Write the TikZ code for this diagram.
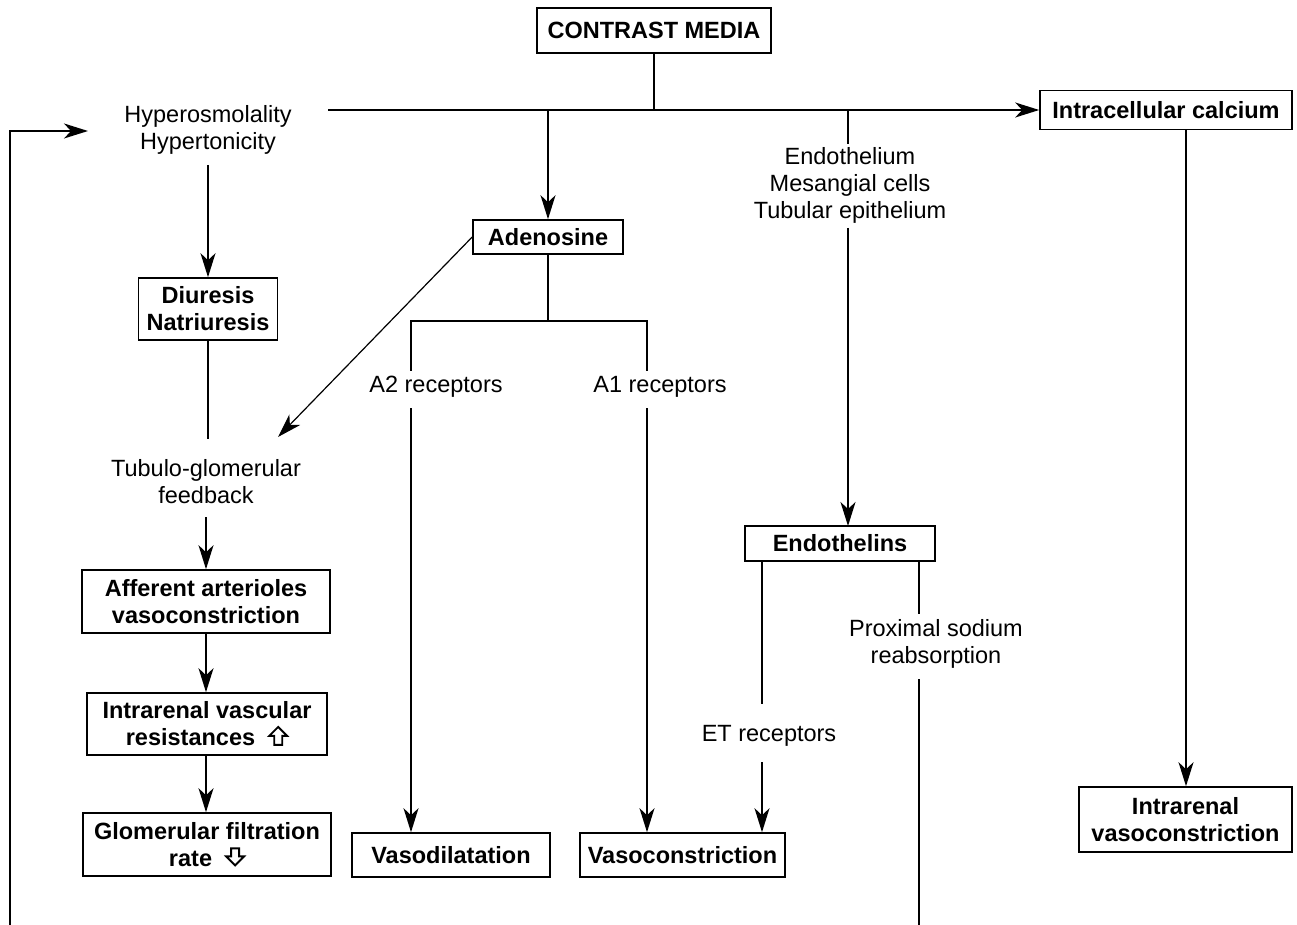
\documentclass[tikz,border=0pt]{standalone}
\usepackage{fontspec}
\setmainfont{Liberation Sans}
\usetikzlibrary{arrows.meta}
\newcommand\hollowup{\tikz[baseline=-1pt,x=1pt,y=1pt,line width=1.9pt]\draw (0,9)--(9,18)--(18,9)--(13,9)--(13,0)--(5,0)--(5,9)--cycle;}
\newcommand\hollowdown{\tikz[baseline=-1pt,x=1pt,y=1pt,line width=1.9pt]\draw (0,9)--(9,0)--(18,9)--(13,9)--(13,17)--(5,17)--(5,9)--cycle;}
\begin{document}
\begin{tikzpicture}[x=1pt,y=-1pt,
  box/.style={draw,line width=1.6pt,font=\fontsize{23.5}{27}\selectfont\bfseries,align=center,inner sep=0pt},
  txt/.style={font=\fontsize{23.5}{27}\selectfont,align=center,inner sep=0pt},
  conn/.style={line width=1.7pt,line cap=rect},
  arr/.style={line width=1.7pt,-{Stealth[length=24pt,width=15pt,inset=7pt]}},
  thinarr/.style={line width=1.2pt,-{Stealth[length=24pt,width=15pt,inset=7pt]}}]
\useasboundingbox (0,0) rectangle (1297,925);
% boxes
\node[box,minimum width=234pt,minimum height=45pt] (cm) at (654,30.5) {CONTRAST MEDIA};
\node[box,minimum width=252pt,minimum height=39pt] (ic) at (1166,110) {Intracellular calcium};
\node[box,minimum width=150pt,minimum height=34pt] (ad) at (548,237) {Adenosine};
\node[box,minimum width=139pt,minimum height=62pt] (dn) at (208,309) {Diuresis\\Natriuresis};
\node[box,minimum width=248pt,minimum height=63pt] (af) at (206,601.5) {Afferent arterioles\\vasoconstriction};
\node[box,minimum width=240pt,minimum height=62pt] (ir) at (207,724) {Intrarenal vascular\\resistances\ \ \hollowup};
\node[box,minimum width=248pt,minimum height=63pt] (gf) at (207,844.5) {Glomerular filtration\\rate\ \ \hollowdown};
\node[box,minimum width=198pt,minimum height=44pt] (vd) at (451,855) {Vasodilatation};
\node[box,minimum width=205pt,minimum height=44pt] (vc) at (682.5,855) {Vasoconstriction};
\node[box,minimum width=190pt,minimum height=35pt] (en) at (840,543.5) {Endothelins};
\node[box,minimum width=213pt,minimum height=65pt] (iv) at (1185.5,819.5) {Intrarenal\\vasoconstriction};
% texts
\node[txt] (hy) at (208,129.5) {Hyperosmolality\\Hypertonicity};
\node[txt] (ep) at (850,185) {Endothelium\\Mesangial cells\\Tubular epithelium};
\node[txt] (a2) at (436,387) {A2 receptors};
\node[txt] (a1) at (660,387) {A1 receptors};
\node[txt] (tg) at (206,482) {Tubulo-glomerular\\feedback};
\node[txt] (et) at (769,736) {ET receptors};
\node[txt] (ps) at (936,643.5) {Proximal sodium\\reabsorption};
% coordinates
\coordinate (j1) at (654,110);
\coordinate (hl) at (328,110);
\coordinate (j2) at (548,321);
\coordinate (l2) at (411,321);
\coordinate (r2) at (647,321);
\coordinate (bl) at (10,925);
\coordinate (tl) at (10,131);
\coordinate (br) at (919,925);
% connectors
\draw[conn] (cm.south) -- (j1);
\draw[arr] (hl) -- (ic.west);
\draw[arr] (548,110) -- (ad.north);
\draw[conn] (848,110) -- (848,143);
\draw[arr] (848,228) -- (848,526);
\draw[conn] (ad.south) -- (j2);
\draw[conn] (l2) -- (r2);
\draw[conn] (l2) -- (411,370);
\draw[conn] (r2) -- (647,370);
\draw[arr] (411,408) -- (vd.north -| 411,0);
\draw[arr] (647,408) -- (vc.north -| 647,0);
\draw[conn] (762,561) -- (762,703);
\draw[arr] (762,762) -- (vc.north -| 762,0);
\draw[conn] (919,561) -- (919,613);
\draw[conn] (919,680) -- (br);
\draw[arr] (ic.south -| 1186,0) -- (iv.north -| 1186,0);
\draw[arr] (208,165) -- (dn.north);
\draw[conn] (dn.south) -- (208,438);
\draw[thinarr] (ad.west) -- (278,437);
\draw[arr] (206,517) -- (af.north);
\draw[arr] (af.south) -- (ir.north -| af.south);
\draw[arr] (ir.south -| af.south) -- (gf.north -| af.south);
\draw[arr] (bl) -- (tl) -- (88,131);
\end{tikzpicture}
\end{document}
